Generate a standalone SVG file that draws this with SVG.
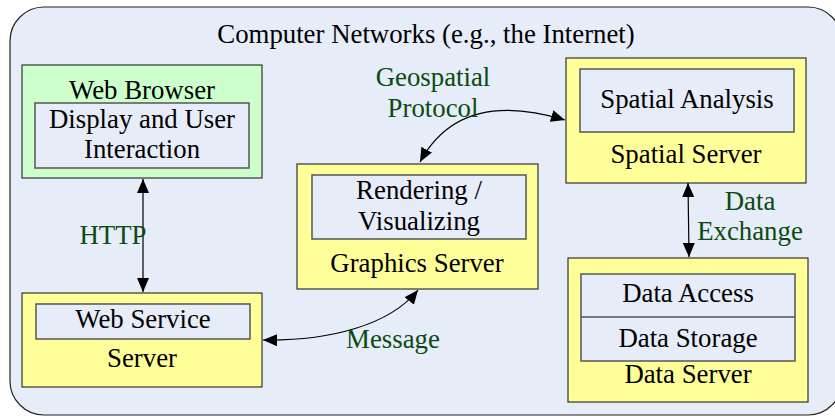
<svg xmlns="http://www.w3.org/2000/svg" width="835" height="416" viewBox="0 0 835 416">
<style>
text{font-family:"Liberation Serif","Times New Roman",serif;font-size:26.8px;text-anchor:middle;fill:#000}
.lbl{fill:#0B4A12}
.y{fill:#FFFF99;stroke:#333;stroke-width:1.2}
.g{fill:#CCFFCC;stroke:#333;stroke-width:1.2}
.in{fill:#E6ECF8;stroke:#555;stroke-width:1.5}
.c{fill:none;stroke:#000;stroke-width:1.2;marker-start:url(#a);marker-end:url(#a)}
</style>
<defs>
<marker id="a" viewBox="0 0 14 12" refX="14" refY="6" markerWidth="14" markerHeight="12" markerUnits="userSpaceOnUse" orient="auto-start-reverse">
<path d="M0,0 L14,6 L0,12 Z" fill="#000"/>
</marker>
</defs>
<rect width="835" height="416" fill="#fff"/>
<rect x="10" y="7" width="832" height="408" rx="34" ry="34" fill="#E6ECF8" stroke="#222" stroke-width="1.2"/>
<text x="426" y="43">Computer Networks (e.g., the Internet)</text>

<g id="web-browser">
<rect class="g" x="22" y="65" width="240" height="113"/>
<text x="142" y="99">Web Browser</text>
<rect class="in" x="35" y="103" width="214" height="65"/>
<text x="142" y="128">Display and User</text>
<text x="142" y="158">Interaction</text>
</g>

<g id="graphics-server">
<rect class="y" x="297" y="164" width="241" height="125"/>
<rect class="in" x="312" y="175" width="214" height="64"/>
<text x="419" y="199">Rendering /</text>
<text x="419" y="230">Visualizing</text>
<text x="417" y="272">Graphics Server</text>
</g>

<g id="spatial-server">
<rect class="y" x="566" y="58" width="240" height="125"/>
<rect class="in" x="580" y="69" width="214" height="63"/>
<text x="687" y="108">Spatial Analysis</text>
<text x="686" y="163">Spatial Server</text>
</g>

<g id="web-service-server">
<rect class="y" x="22" y="293" width="240" height="94"/>
<rect class="in" x="36" y="304" width="214" height="35"/>
<text x="143" y="328">Web Service</text>
<text x="142" y="367">Server</text>
</g>

<g id="data-server">
<rect class="y" x="568" y="258" width="240" height="144"/>
<rect class="in" x="581" y="274" width="214" height="87"/>
<line x1="581" y1="317" x2="795" y2="317" stroke="#555" stroke-width="1.5"/>
<text x="688" y="302">Data Access</text>
<text x="688" y="347">Data Storage</text>
<text x="688" y="383">Data Server</text>
</g>

<g id="connectors">
<path class="c" d="M143,179 L143,292"/>
<path class="c" d="M263,340 C330,341 390,325 418,290"/>
<path class="c" d="M420,162 Q460,88 565,120"/>
<path class="c" d="M688,183 L689,257"/>
<text class="lbl" x="113" y="244">HTTP</text>
<text class="lbl" x="393" y="348">Message</text>
<text class="lbl" x="433" y="86">Geospatial</text>
<text class="lbl" x="433" y="117">Protocol</text>
<text class="lbl" x="750" y="210">Data</text>
<text class="lbl" x="750" y="240">Exchange</text>
</g>
</svg>
